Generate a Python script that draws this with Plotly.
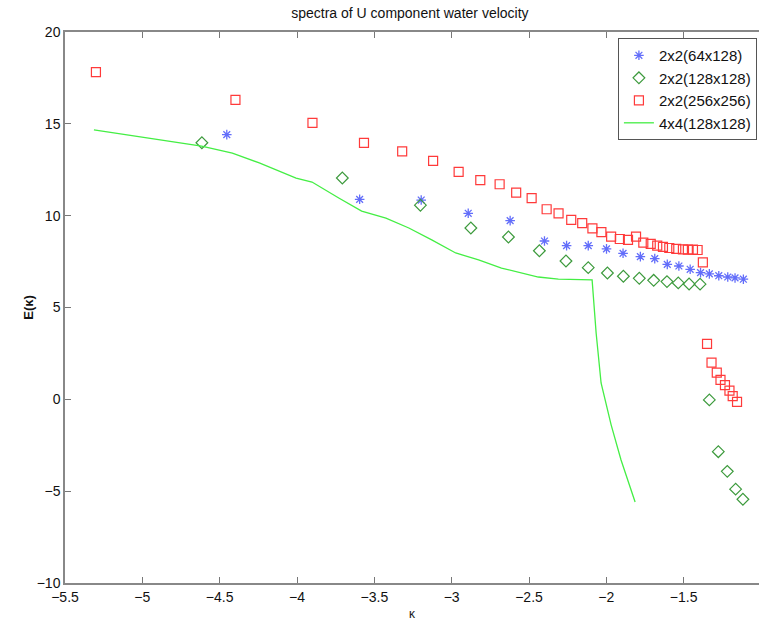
import plotly.graph_objects as go

# 2x2(64x128) - blue stars
k_64 = [-4.454, -3.595, -3.197, -2.893, -2.622, -2.40, -2.257, -2.117, -1.999, -1.892,
        -1.78, -1.687, -1.606, -1.531, -1.458, -1.391, -1.334, -1.273, -1.215, -1.168, -1.114]
e_64 = [14.41, 10.89, 10.85, 10.13, 9.73, 8.62, 8.37, 8.37, 8.19, 7.95,
        7.77, 7.66, 7.35, 7.26, 7.08, 6.90, 6.83, 6.73, 6.66, 6.61, 6.54]

# 2x2(128x128) - green diamonds
k_128 = [-4.615, -3.707, -3.202, -2.876, -2.633, -2.433, -2.261, -2.117, -1.993, -1.89,
         -1.787, -1.694, -1.608, -1.535, -1.465, -1.394,
         -1.334, -1.276, -1.218, -1.164, -1.117]
e_128 = [13.97, 12.05, 10.57, 9.33, 8.84, 8.09, 7.53, 7.17, 6.88, 6.70,
         6.59, 6.48, 6.41, 6.34, 6.28, 6.27,
         -0.03, -2.85, -3.92, -4.89, -5.44]

# 2x2(256x256) - red squares
k_256 = [-5.30, -4.398, -3.90, -3.567, -3.32, -3.12, -2.955, -2.815, -2.69, -2.583,
         -2.483, -2.386, -2.309, -2.227, -2.156, -2.09, -2.032, -1.969, -1.913, -1.86,
         -1.808, -1.761, -1.713, -1.671, -1.634, -1.593, -1.548, -1.505, -1.473, -1.44,
         -1.41, -1.376,
         -1.349, -1.32, -1.286, -1.262, -1.233, -1.204, -1.183, -1.155]
e_256 = [17.82, 16.30, 15.05, 13.96, 13.5, 12.98, 12.38, 11.94, 11.71, 11.25,
         10.95, 10.35, 10.13, 9.77, 9.59, 9.31, 9.10, 8.86, 8.73, 8.68,
         8.86, 8.53, 8.46, 8.37, 8.30, 8.24, 8.19, 8.17, 8.15, 8.15,
         8.13, 7.46,
         3.02, 2.0, 1.45, 1.06, 0.77, 0.47, 0.18, -0.14]

# 4x4(128x128) - green line
k_4x4 = [-5.313, -4.617, -4.418, -4.244, -4.006, -3.903, -3.73, -3.582, -3.425, -3.277,
         -3.129, -2.974, -2.826, -2.678, -2.44, -2.31, -2.092, -2.066, -2.034, -1.969,
         -1.905, -1.814]
e_4x4 = [14.67, 13.79, 13.41, 12.87, 12.05, 11.83, 10.96, 10.25, 9.87, 9.33,
         8.68, 7.97, 7.59, 7.15, 6.66, 6.55, 6.50, 3.61, 0.89, -1.39,
         -3.30, -5.59]

x_ticks = [-5.5, -5, -4.5, -4, -3.5, -3, -2.5, -2, -1.5, -1]
y_ticks = [-10, -5, 0, 5, 10, 15, 20]

FONT = "Liberation Sans, Arial, sans-serif"

fig = go.Figure()
fig.add_trace(go.Scatter(x=k_64, y=e_64, mode="markers", name="2x2(64x128)",
                         marker=dict(symbol="asterisk-open", size=8,
                                     line=dict(color="#0000ff", width=1.3))))
fig.add_trace(go.Scatter(x=k_128, y=e_128, mode="markers", name="2x2(128x128)",
                         marker=dict(symbol="diamond-open", size=9, color="#3c9a3c",
                                     line=dict(color="#3c9a3c", width=1.2))))
fig.add_trace(go.Scatter(x=k_256, y=e_256, mode="markers", name="2x2(256x256)",
                         marker=dict(symbol="square-open", size=9, color="#ff3a3a",
                                     line=dict(color="#ff3a3a", width=1.2))))
fig.add_trace(go.Scatter(x=k_4x4, y=e_4x4, mode="lines", name="4x4(128x128)",
                         line=dict(color="#44ee44", width=1.3)))

fig.update_layout(
    width=759, height=626,
    margin=dict(l=65, r=0, t=32, b=43),
    paper_bgcolor="white", plot_bgcolor="white",
    font=dict(family=FONT, size=14, color="#111111"),
    title=dict(text="spectra of U component water velocity", x=0.497, xref="paper",
               xanchor="center", y=1 - 13 / 626, yref="container", yanchor="middle",
               font=dict(family=FONT, size=14, color="#111111")),
    showlegend=True,
    legend=dict(x=0.997, y=0.989, xanchor="right", yanchor="top",
                bgcolor="white", bordercolor="#555555", borderwidth=1,
                font=dict(family=FONT, size=15, color="#111111"),
                tracegroupgap=0, itemwidth=30),
    xaxis=dict(range=[-5.5, -1.013], tickvals=x_ticks,
               ticktext=[("%g" % v).replace("-", "\u2212") for v in x_ticks],
               showgrid=False, zeroline=False, showline=True, linecolor="#888888", linewidth=1.5,
               mirror="ticks", ticks="inside", ticklen=6, tickcolor="#777777",
               tickfont=dict(size=14),
               title=dict(text="κ", standoff=6, font=dict(size=12))),
    yaxis=dict(range=[-10, 20], tickvals=y_ticks,
               ticktext=[("%g" % v).replace("-", "\u2212") for v in y_ticks],
               showgrid=False, zeroline=False, showline=True, linecolor="#888888", linewidth=1.5,
               ticks="inside", ticklen=6, tickcolor="#777777",
               tickfont=dict(size=14),
               title=dict(text="<b>E(κ)</b>", standoff=0, font=dict(size=13))),
)

fig.write_html("out.html")
